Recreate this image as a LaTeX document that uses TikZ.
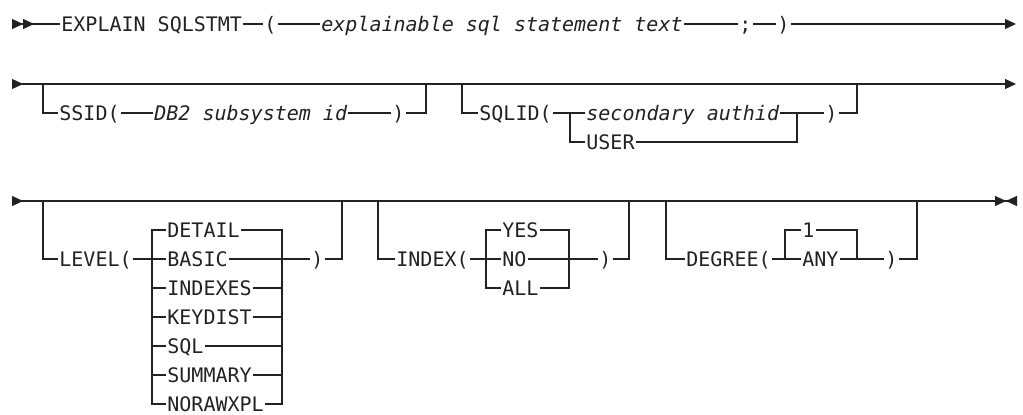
\documentclass[tikz,border=0pt]{standalone}
\usepackage{fontspec}
\setmonofont{DejaVu Sans Mono}
\usetikzlibrary{arrows.meta,positioning}
\definecolor{rail}{HTML}{222222}

\begin{document}
\begin{tikzpicture}[x=0.5pt,y=-0.5pt,line width=0.6pt,color=rail,node distance=14.5pt,
    >={Triangle[length=5.5pt,width=5pt]},
    kw/.style={anchor=west,inner xsep=0.4pt,inner ysep=0pt,text height=7.3pt,text depth=0pt,
      font=\ttfamily\fontsize{10}{12}\selectfont},
    var/.style={kw,font=\ttfamily\itshape\fontsize{10}{12}\selectfont}]
  \useasboundingbox (0,0) rectangle (1023,414);

  % first line
  \coordinate (r1s) at (12,24);
  \coordinate (r1e) at (1016,24);
  \node[kw] (expl) at (60,24) {EXPLAIN SQLSTMT};
  \node[kw] (lpA) at (263,24) {(};
  \node[var] (stmt) at (320,24) {explainable sql statement text};
  \node[kw] (semi) at (738,24) {;};
  \node[kw] (rpA) at (776,24) {)};
  \draw[{>>}-] (r1s) -- (expl);
  \draw (expl) -- (lpA) -- (stmt) -- (semi) -- (rpA);
  \draw[->] (rpA) -- (r1e);

  % second line: SSID, SQLID
  \coordinate (r2s) at (12,84);
  \coordinate (r2e) at (1016,84);
  \coordinate (ssA) at (43,84);
  \coordinate (ssB) at (426,84);
  \coordinate (sqA) at (462,84);
  \coordinate (sqB) at (857,84);
  \coordinate (sqS) at (570,113);
  \coordinate (sqJ) at (797,113);
  \node[kw] (ssid) at (58,113) {SSID(};
  \node[var] (db2) at (153,113) {DB2 subsystem id};
  \node[kw] (ssrp) at (391,113) {)};
  \node[kw] (sqlid) at (478,113) {SQLID(};
  \node[var] (auth) at (585,113) {secondary authid};
  \node (user) [below=of auth.west,kw] {USER};
  \node[kw] (sqrp) at (824,113) {)};
  \draw[{>}->] (r2s) -- (r2e);
  \draw (ssA) |- (ssid.west);
  \draw (ssid) -- (db2) -- (ssrp);
  \draw (ssrp.east) -| (ssB);
  \draw (sqA) |- (sqlid.west);
  \draw (sqlid) -- (auth) -- (sqrp);
  \draw (sqrp.east) -| (sqB);
  \draw (sqS) |- (user.west);
  \draw (user.east) -| (sqJ);

  % third line: LEVEL, INDEX, DEGREE
  \coordinate (r3s) at (12,201);
  \coordinate (r3e) at (1017,201);
  \coordinate (lvA) at (43,201);
  \coordinate (lvB) at (342,201);
  \coordinate (lvS) at (152,259);
  \coordinate (lvJ) at (282,259);
  \node[kw] (lev) at (58,259) {LEVEL(};
  \node[kw] (basic) at (166,259) {BASIC};
  \node (detail) [above=of basic.west,kw] {DETAIL};
  \node (indexes) [below=of basic.west,kw] {INDEXES};
  \node (keydist) [below=of indexes.west,kw] {KEYDIST};
  \node (sql) [below=of keydist.west,kw] {SQL};
  \node (summary) [below=of sql.west,kw] {SUMMARY};
  \node (noraw) [below=of summary.west,kw] {NORAWXPL};
  \node[kw] (lvrp) at (310,259) {)};
  \draw[{>}-{>>[reversed]}] (r3s) -- (r3e);
  \draw (lvA) |- (lev.west);
  \draw (lev) -- (basic) -- (lvrp);
  \draw (lvrp.east) -| (lvB);
  \draw (lvS) |- (detail.west) (detail.east) -| (lvJ);
  \draw (lvS) |- (indexes.west) (indexes.east) -| (lvJ);
  \draw (lvS) |- (keydist.west) (keydist.east) -| (lvJ);
  \draw (lvS) |- (sql.west) (sql.east) -| (lvJ);
  \draw (lvS) |- (summary.west) (summary.east) -| (lvJ);
  \draw (lvS) |- (noraw.west) (noraw.east) -| (lvJ);

  \coordinate (ixA) at (378,201);
  \coordinate (ixB) at (629,201);
  \coordinate (ixS) at (486,259);
  \coordinate (ixJ) at (569,259);
  \node[kw] (index) at (395,259) {INDEX(};
  \node[kw] (no) at (501,259) {NO};
  \node (yes) [above=of no.west,kw] {YES};
  \node (all) [below=of no.west,kw] {ALL};
  \node[kw] (ixrp) at (598,259) {)};
  \draw (ixA) |- (index.west);
  \draw (index) -- (no) -- (ixrp);
  \draw (ixrp.east) -| (ixB);
  \draw (ixS) |- (yes.west) (yes.east) -| (ixJ);
  \draw (ixS) |- (all.west) (all.east) -| (ixJ);

  \coordinate (dgA) at (666,201);
  \coordinate (dgB) at (917,201);
  \coordinate (dgS) at (785,259);
  \coordinate (dgJ) at (857,259);
  \coordinate (bar1) at (922,201);
  \coordinate (bar2) at (947,201);
  \node[kw] (degree) at (685,259) {DEGREE(};
  \node[kw] (any) at (801,259) {ANY};
  \node (one) [above=of any.west,kw] {1};
  \node[kw] (dgrp) at (884,259) {)};
  \draw (dgA) |- (degree.west);
  \draw (degree) -- (any) -- (dgrp);
  \draw (dgrp.east) -| (dgB);
  \draw (dgS) |- (one.west) (one.east) -| (dgJ);
  \draw[line width=1.2pt] (bar1) -- (bar2);
\end{tikzpicture}
\end{document}
